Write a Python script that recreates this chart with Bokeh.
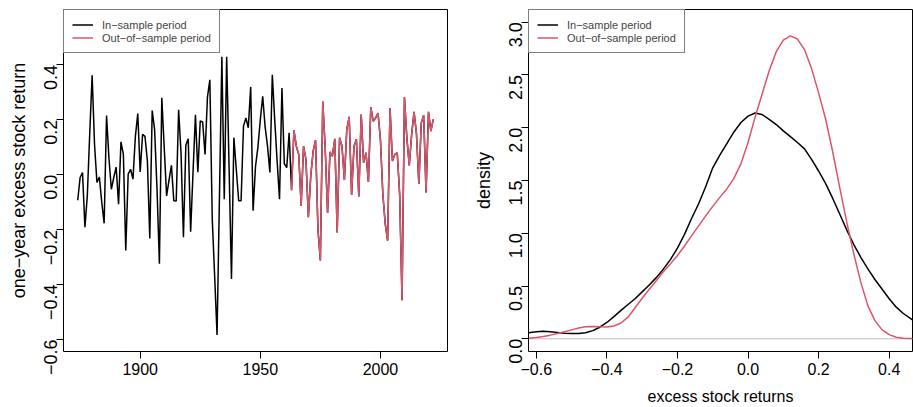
import math
from bokeh.plotting import figure
from bokeh.layouts import row
from bokeh.models import (Range1d, FixedTicker, CustomJSTickFormatter, Legend,
                          LegendItem, Span, ColumnDataSource)
from bokeh.core.properties import value
from bokeh.embed import file_html
from bokeh.resources import INLINE

# ---------------- data ----------------
start_year = 1874
returns = [
    -0.093, -0.010, 0.008, -0.191, -0.075, 0.150, 0.362, 0.110, -0.028, -0.008,   # 1874-1883
    -0.100, -0.177, 0.216, 0.060, -0.053, -0.010, 0.028, -0.107, 0.120, 0.074,    # 1884-1893
    -0.276, 0.002, 0.020, -0.016, 0.140, 0.223, 0.010, 0.147, 0.140, 0.050,       # 1894-1903
    -0.232, 0.234, 0.165, -0.050, -0.324, 0.280, 0.100, -0.077, -0.020, 0.034,    # 1904-1913
    -0.095, -0.096, 0.237, 0.080, -0.228, 0.107, 0.131, -0.208, 0.010, 0.218,     # 1914-1923
    0.009, 0.196, 0.192, 0.074, 0.283, 0.346, -0.161, -0.370, -0.584, -0.077,     # 1924-1933
    0.430, -0.089, 0.430, 0.030, -0.380, 0.135, 0.020, -0.095, -0.095, 0.177,     # 1934-1943
    0.207, 0.171, 0.320, -0.131, 0.030, 0.100, 0.200, 0.286, 0.175, 0.104,        # 1944-1953
    0.008, 0.364, 0.200, 0.050, -0.089, 0.316, 0.040, 0.026, 0.153, -0.056,       # 1954-1963
    0.162, 0.104, 0.074, -0.113, 0.104, 0.056, -0.155, -0.004, 0.086, 0.126,      # 1964-1973
    -0.200, -0.312, 0.267, 0.100, -0.139, 0.083, 0.068, 0.131, -0.210, 0.135,     # 1974-1983
    0.104, -0.019, 0.165, 0.211, -0.074, 0.104, 0.129, -0.079, 0.219, 0.044,      # 1984-1993
    0.080, -0.026, 0.246, 0.195, 0.207, 0.225, 0.129, -0.070, -0.179, -0.240,     # 1994-2003
    0.243, 0.050, 0.074, 0.080, -0.070, -0.457, 0.282, 0.135, 0.034, 0.147,       # 2004-2013
    0.229, 0.150, -0.034, 0.189, 0.217, -0.065, 0.229, 0.159, 0.202,              # 2014-2022
]
years = list(range(start_year, start_year + len(returns)))
oos_start_year = 1963

# density curves
in_dens_x = [-0.622, -0.60, -0.58, -0.56, -0.54, -0.52, -0.50, -0.48, -0.46, -0.44,
             -0.42, -0.40, -0.38, -0.36, -0.34, -0.32, -0.30, -0.28, -0.26, -0.24,
             -0.22, -0.20, -0.18, -0.16, -0.14, -0.12, -0.10, -0.08, -0.06, -0.04,
             -0.02, 0.00, 0.02, 0.04, 0.06, 0.08, 0.10, 0.12, 0.14, 0.16,
             0.18, 0.20, 0.22, 0.24, 0.26, 0.28, 0.30, 0.32, 0.34, 0.36,
             0.38, 0.40, 0.42, 0.44, 0.466]
in_dens_y = [0.057, 0.066, 0.071, 0.068, 0.061, 0.054, 0.050, 0.051, 0.058, 0.078,
             0.110, 0.155, 0.210, 0.270, 0.325, 0.380, 0.445, 0.510, 0.580, 0.660,
             0.750, 0.860, 0.990, 1.140, 1.280, 1.440, 1.620, 1.740, 1.850, 1.960,
             2.050, 2.110, 2.140, 2.125, 2.080, 2.030, 1.970, 1.915, 1.860, 1.800,
             1.700, 1.590, 1.470, 1.330, 1.180, 1.030, 0.890, 0.770, 0.660, 0.560,
             0.470, 0.380, 0.300, 0.240, 0.180]
out_dens_x = [-0.622, -0.60, -0.58, -0.56, -0.54, -0.52, -0.50, -0.48, -0.46, -0.44,
              -0.42, -0.40, -0.38, -0.36, -0.34, -0.32, -0.30, -0.28, -0.26, -0.24,
              -0.22, -0.20, -0.18, -0.16, -0.14, -0.12, -0.10, -0.08, -0.06, -0.04,
              -0.02, 0.00, 0.02, 0.04, 0.06, 0.08, 0.10, 0.12, 0.14, 0.16,
              0.18, 0.20, 0.22, 0.24, 0.26, 0.28, 0.30, 0.32, 0.34, 0.36,
              0.38, 0.40, 0.42, 0.44, 0.466]
out_dens_y = [0.005, 0.012, 0.022, 0.035, 0.050, 0.067, 0.085, 0.102, 0.115, 0.118,
              0.115, 0.113, 0.122, 0.150, 0.205, 0.295, 0.385, 0.470, 0.550, 0.635,
              0.710, 0.790, 0.880, 0.975, 1.070, 1.165, 1.255, 1.340, 1.420, 1.520,
              1.660, 1.860, 2.100, 2.320, 2.540, 2.720, 2.830, 2.870, 2.840, 2.740,
              2.560, 2.330, 2.080, 1.770, 1.430, 1.100, 0.800, 0.530, 0.310, 0.170,
              0.085, 0.040, 0.015, 0.006, 0.002]

left_yticks = [-0.6, -0.4, -0.2, 0.0, 0.2, 0.4]
left_xticks = [1900, 1950, 2000]
right_xticks = [-0.6, -0.4, -0.2, 0.0, 0.2, 0.4]
right_yticks = [0.0, 0.5, 1.0, 1.5, 2.0, 2.5, 3.0]
legend_labels = ["In\u2212sample period", "Out\u2212of\u2212sample period"]

# ---------------- style ----------------
FONT = "Liberation Sans"
BLACK = "#000000"
RED = "#DF536B"
fmt = CustomJSTickFormatter(code="return tick.toFixed(1).replace('-', '\u2212');")


def style(p):
    p.outline_line_color = "black"
    p.outline_line_width = 1
    p.xgrid.visible = False
    p.ygrid.visible = False
    p.background_fill_color = "white"
    p.border_fill_color = "white"
    for ax in (p.xaxis[0], p.yaxis[0]):
        ax.axis_line_color = None
        ax.major_tick_in = 0
        ax.major_tick_out = 7
        ax.major_tick_line_color = "black"
        ax.minor_tick_line_color = None
        ax.major_label_text_font = FONT
        ax.major_label_text_color = "black"
        ax.axis_label_text_font = FONT
        ax.axis_label_text_font_style = "normal"
        ax.axis_label_text_color = "black"
    xa, ya = p.xaxis[0], p.yaxis[0]
    xa.major_label_text_font_size = "16px"
    xa.axis_label_text_font_size = "16px"
    xa.major_label_standoff = 4
    xa.axis_label_standoff = 10
    ya.major_label_text_font_size = "18px"
    ya.axis_label_text_font_size = "18px"
    ya.major_label_standoff = 6
    ya.axis_label_standoff = 6
    ya.major_label_orientation = math.pi / 2


def add_legend(p, r1, r2):
    leg = Legend(items=[LegendItem(label=value(legend_labels[0]), renderers=[r1]),
                        LegendItem(label=value(legend_labels[1]), renderers=[r2])],
                 location="top_left", margin=0, padding=8, spacing=0,
                 glyph_width=21, glyph_height=13, label_height=13, label_standoff=9,
                 label_text_font=FONT, label_text_font_size="11px",
                 border_line_color="black", border_line_width=1,
                 background_fill_color="white", background_fill_alpha=1)
    p.add_layout(leg)


# ---------------- left panel ----------------
src_all = ColumnDataSource(dict(x=years, y=returns))
i0 = years.index(oos_start_year)
src_oos = ColumnDataSource(dict(x=years[i0:], y=returns[i0:]))

p1 = figure(width=456, height=407, output_backend="svg", toolbar_location=None,
            x_range=Range1d(1868.08, 2027.92), y_range=Range1d(-0.644, 0.602),
            min_border_left=63, min_border_right=9, min_border_top=9, min_border_bottom=54)
style(p1)
r1 = p1.line("x", "y", source=src_all, line_color=BLACK, line_width=1.5)
r2 = p1.line("x", "y", source=src_oos, line_color=RED, line_width=1.5)
p1.xaxis[0].ticker = FixedTicker(ticks=left_xticks)
p1.yaxis[0].ticker = FixedTicker(ticks=left_yticks)
p1.yaxis[0].formatter = fmt
p1.yaxis[0].axis_label = "one\u2212year excess stock return"
add_legend(p1, r1, r2)

# ---------------- right panel ----------------
src_in = ColumnDataSource(dict(x=in_dens_x, y=in_dens_y))
src_out = ColumnDataSource(dict(x=out_dens_x, y=out_dens_y))
p2 = figure(width=457, height=407, output_backend="svg", toolbar_location=None,
            x_range=Range1d(-0.622, 0.466), y_range=Range1d(-0.12, 3.12),
            min_border_left=72, min_border_right=1, min_border_top=9, min_border_bottom=54)
style(p2)
p2.add_layout(Span(location=0, dimension="width", line_color="#BEBEBE", line_width=1, level="underlay"))
d1 = p2.line("x", "y", source=src_in, line_color=BLACK, line_width=1.5)
d2 = p2.line("x", "y", source=src_out, line_color=RED, line_width=1.5)
p2.xaxis[0].ticker = FixedTicker(ticks=right_xticks)
p2.yaxis[0].ticker = FixedTicker(ticks=right_yticks)
p2.xaxis[0].formatter = fmt
p2.yaxis[0].formatter = fmt
p2.xaxis[0].axis_label = "excess stock returns"
p2.yaxis[0].axis_label = "density"
add_legend(p2, d1, d2)

layout = row(p1, p2, spacing=0)
open("out.html", "w").write(file_html(layout, INLINE))
